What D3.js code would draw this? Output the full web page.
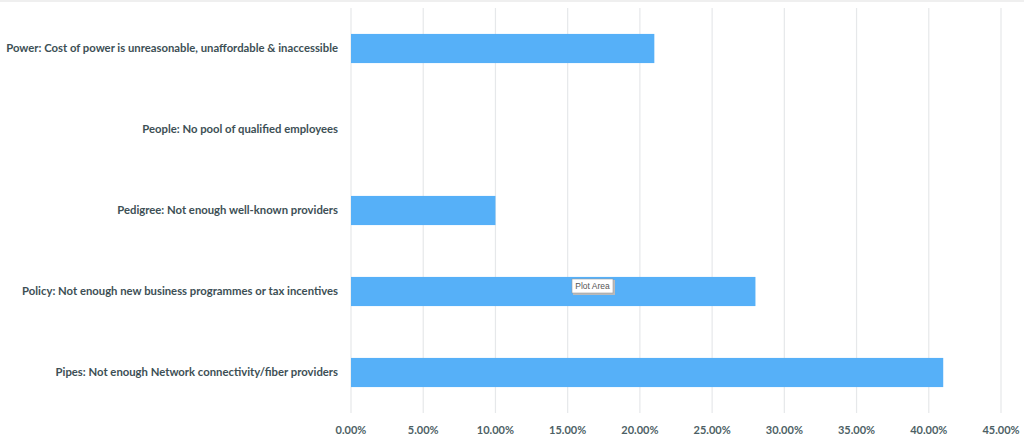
<!DOCTYPE html>
<html><head><meta charset="utf-8">
<script src="https://cdn.jsdelivr.net/npm/d3@7"></script>
<style>body{margin:0;background:#fff}svg{display:block}</style>
</head><body>
<svg id="c" width="1024" height="440"></svg>
<script>
const categories = [
  "Power: Cost of power is unreasonable, unaffordable & inaccessible",
  "People: No pool of qualified employees",
  "Pedigree: Not enough well-known providers",
  "Policy: Not enough new business programmes or tax incentives",
  "Pipes: Not enough Network connectivity/fiber providers"
];
const values = [0.21, 0, 0.10, 0.28, 0.41];
const tickValues = [0, 0.05, 0.10, 0.15, 0.20, 0.25, 0.30, 0.35, 0.40, 0.45];

(function(){
const svg = d3.select("#c");
const pLeft = 351, pRight = 1001, pTop = 8, pBottom = 413;
const x = d3.scaleLinear().domain([0, 0.45]).range([pLeft, pRight]);
const y = d3.scaleBand().domain(categories).range([pTop, pBottom]).paddingInner(0.64).paddingOuter(0.32);

svg.append("rect").attr("x",0).attr("y",0).attr("width",1024).attr("height",2).attr("fill","#efefef");

svg.append("g").selectAll("line").data(tickValues).join("line")
  .attr("x1", d=>x(d)).attr("x2", d=>x(d)).attr("y1", pTop).attr("y2", pBottom)
  .attr("stroke", "#e6e8ea").attr("stroke-width", 1.2);

svg.append("g").selectAll("rect").data(values).join("rect")
  .attr("x", x(0)).attr("y", (d,i)=>y(categories[i]))
  .attr("width", d=>x(d)-x(0)).attr("height", y.bandwidth())
  .attr("fill", "#56b0f8");

svg.append("g").selectAll("text").data(categories).join("text")
  .attr("x", 338).attr("y", d=>y(d)+y.bandwidth()/2).attr("dy","0.35em")
  .attr("text-anchor","end").attr("font-family","Lato, 'Open Sans', sans-serif")
  .attr("font-weight","bold").attr("font-size", 11.3).attr("fill","#3d4f55")
  .text(d=>d);

svg.append("g").selectAll("text").data(tickValues).join("text")
  .attr("x", d=>x(d)).attr("y", 430).attr("dy","0.35em")
  .attr("text-anchor","middle").attr("font-family","Lato, 'Open Sans', sans-serif")
  .attr("font-weight","bold").attr("font-size", 11).attr("fill","#4d5f65")
  .text(d=>d3.format(".2%")(d));

const tip = svg.append("g").attr("transform","translate(572,279)");
tip.append("rect").attr("x",1).attr("y",1).attr("width",42).attr("height",15).attr("fill","#bbb");
tip.append("rect").attr("x",0).attr("y",0).attr("width",41).attr("height",14).attr("fill","#fff").attr("stroke","#999").attr("stroke-width",0.6);
tip.append("text").attr("x",20.5).attr("y",7.5).attr("dy","0.35em").attr("text-anchor","middle")
  .attr("font-family","'Liberation Sans', Arial, sans-serif").attr("font-size",8.5).attr("fill","#555").text("Plot Area");
})();
</script>
</body></html>
